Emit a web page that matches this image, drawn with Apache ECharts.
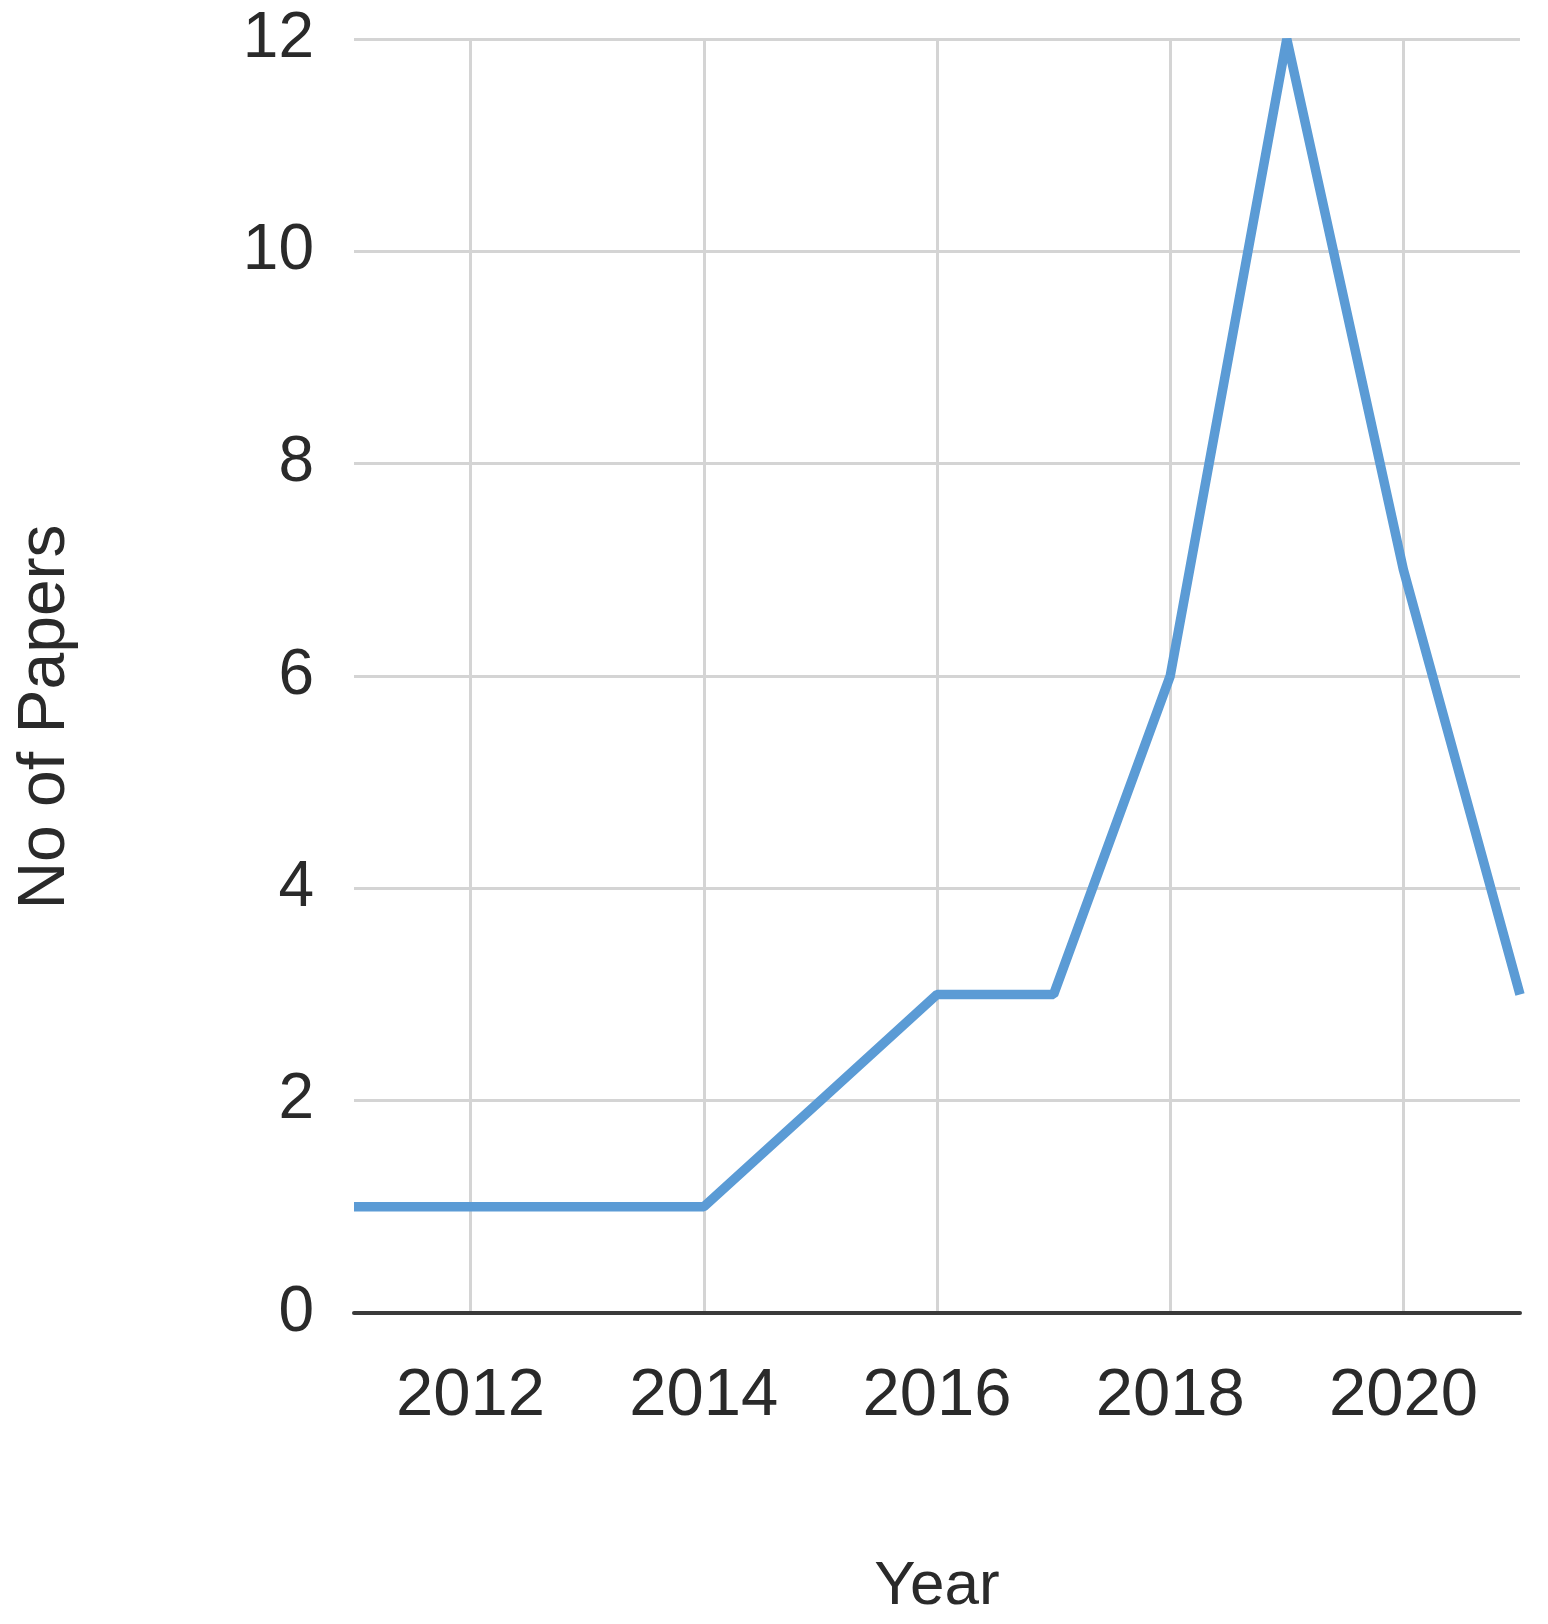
<!DOCTYPE html>
<html>
<head>
<meta charset="utf-8">
<script src="https://cdn.jsdelivr.net/npm/echarts@6/dist/echarts.min.js"></script>
<style>html,body{margin:0;padding:0;background:#fff}#c{width:1548px;height:1624px}</style>
</head>
<body>
<div id="c"></div>
<script>
const years = ['2011','2012','2013','2014','2015','2016','2017','2018','2019','2020','2021'];
const papers = [1,1,1,1,2,3,3,6,12,7,3];
const xTitle = 'Year';
const yTitle = 'No of Papers';

const chart = echarts.init(document.getElementById('c'));
const font = '"Liberation Sans", Arial, sans-serif';
chart.setOption({
  animation: false,
  grid: {left: 354, right: 28, top: 39, bottom: 311},
  xAxis: {
    type: 'category',
    data: years,
    boundaryGap: false,
    name: xTitle,
    nameLocation: 'middle',
    nameGap: 243,
    nameTextStyle: {fontFamily: font, fontSize: 62, color: '#2a2a2a'},
    axisLine: {lineStyle: {color: '#3a3a3a', width: 4}},
    axisTick: {show: false},
    axisLabel: {
      fontFamily: font, fontSize: 67, color: '#2a2a2a', margin: 50,
      interval: (i, v) => Number(v) % 2 === 0
    },
    splitLine: {
      show: true,
      interval: (i, v) => Number(v) % 2 === 0,
      lineStyle: {color: '#d4d4d4', width: 3}
    }
  },
  yAxis: {
    type: 'value',
    min: 0, max: 12, interval: 2,
    name: yTitle,
    nameLocation: 'middle',
    nameGap: 275,
    nameRotate: 90,
    nameTextStyle: {fontFamily: font, fontSize: 66, color: '#2a2a2a', padding: [0, 82, 0, 0]},
    axisLine: {show: false},
    axisTick: {show: false},
    axisLabel: {fontFamily: font, fontSize: 64, color: '#2a2a2a', margin: 40},
    splitLine: {lineStyle: {color: '#d4d4d4', width: 3}}
  },
  series: [{
    type: 'line',
    data: papers,
    symbol: 'none',
    lineStyle: {color: '#5b9bd5', width: 9.5},
    z: 3
  }]
});
</script>
</body>
</html>
